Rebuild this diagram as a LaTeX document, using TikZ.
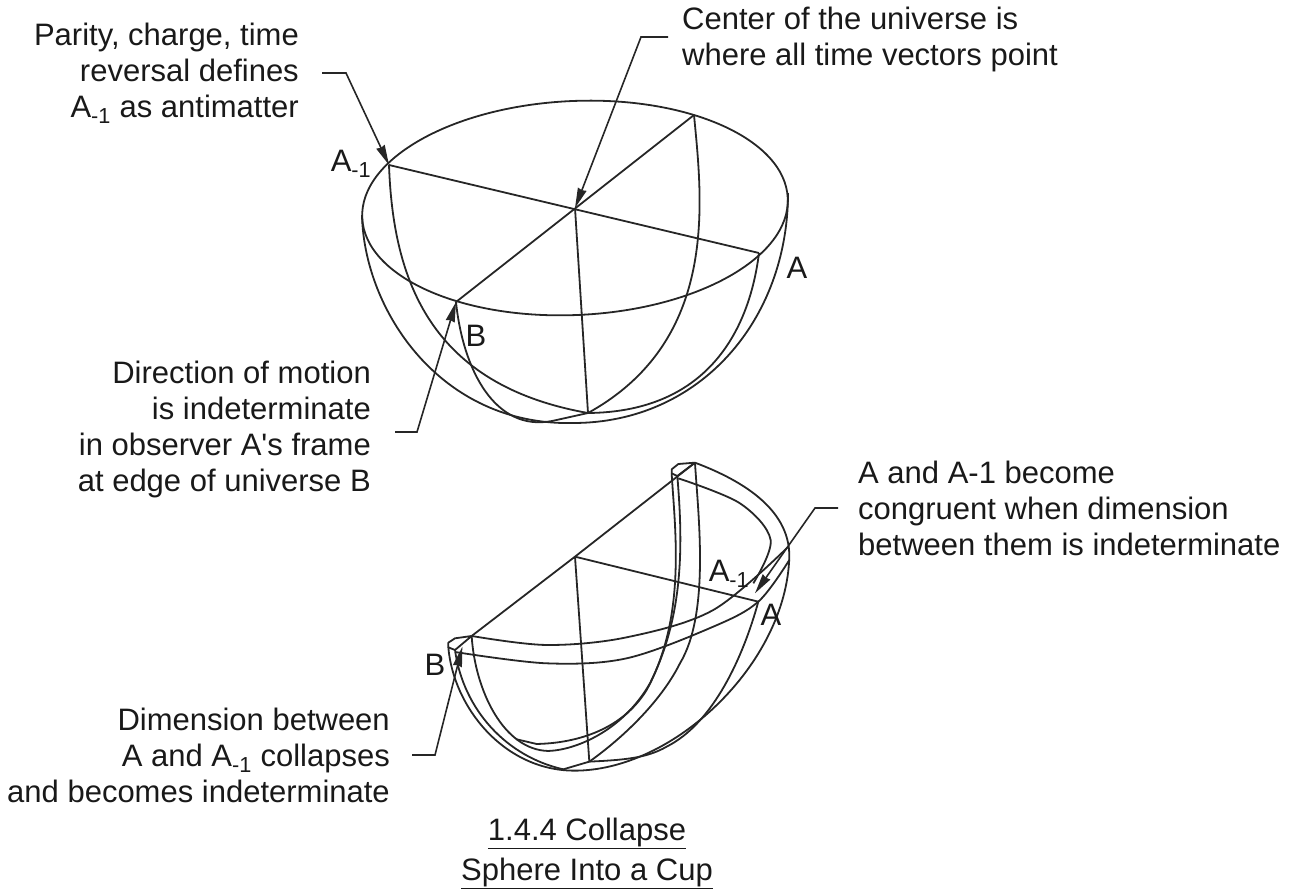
\documentclass[tikz,border=0pt]{standalone}
\usepackage{fontspec}
\setmainfont{Liberation Sans}
\usetikzlibrary{arrows.meta, calc}
\tikzset{
    every plot/.style={smooth, tension=0.55},
    bowl/.style={draw=black!85, line width=1.8pt, line join=round},
    leader/.style={draw=black!85, line width=1.6pt, -{Stealth[inset=1pt, length=20pt, width=9pt]}},
    lbl/.style={inner sep=0pt, font=\fontsize{31}{36}\selectfont, text=black!90},
    pt/.style={inner sep=0pt, font=\fontsize{31}{36}\selectfont, text=black!90}
}
\begin{document}
\begin{tikzpicture}[x=1pt, y=-1pt]
    \useasboundingbox (0,0) rectangle (1289,894);
    % upper hemisphere
    \coordinate (cen) at (575,208);
    \coordinate (am) at (389,165);
    \coordinate (a) at (759,253);
    \coordinate (b) at (456,302);
    \coordinate (top) at (694,115);
    \coordinate (bot) at (588,413);
    \draw[bowl, rotate around={2.7:(cen)}] (cen) ellipse (213 and 107);
    \draw[bowl] (am) -- (a);
    \draw[bowl] (b) -- (top);
    \draw[bowl] (cen) -- (bot);
    \draw[bowl] (362,215) .. controls (364,310) and (440,426) .. (573,423) .. controls (700,423) and (788,320) .. (788,193);
    \draw[bowl] (am) .. controls (393,280) and (430,385) .. (bot);
    \draw[bowl] (b) .. controls (463,370) and (495,432) .. (552,421) -- (bot);
    \draw[bowl] (a) .. controls (748,340) and (700,412) .. (bot);
    \draw[bowl] (top) .. controls (702,200) and (720,340) .. (bot);
    % collapsed cup
    \begin{scope}[shift={(420,450)}, x=0.3333pt, y=-0.3333pt]
        \coordinate (cenb) at (465,320);
        \coordinate (ab) at (1015,455);
        \coordinate (botb) at (508,935);
        \coordinate (capa) at (825,38);
        \coordinate (capb) at (155,558);
        \draw[bowl] (capb) -- (cenb) -- (capa);
        \draw[bowl] (cenb) -- (ab);
        \draw[bowl] (cenb) -- (botb);
        \draw[bowl] (capa) -- (775,42) -- (755,58) -- (755,70) -- (772,78) -- (capa);
        \draw[bowl] (capb) -- (105,565) -- (85,578) -- (85,592) -- (105,600) -- (capb);
        % rims
        \draw[bowl] plot coordinates {(capb) (380,585) (620,562) (880,480) (1105,290)};
        \draw[bowl] plot coordinates {(105,606) (380,640) (620,625) (880,530) (ab) (1108,330)};
        \draw[bowl] (capa) .. controls (950,85) and (1110,170) .. (1108,320) .. controls (1100,640) and (760,965) .. (460,962) .. controls (250,960) and (100,770) .. (85,592);
        \draw[bowl] plot coordinates {(775,85) (960,160) (1052,270) (1000,400)};
        % inner curves
        \draw[bowl] (755,70) .. controls (765,240) and (800,500) .. (680,720) .. controls (600,850) and (450,880) .. (350,882) -- (290,868);
        \draw[bowl] (772,78) .. controls (790,290) and (790,500) .. (690,700) .. controls (610,840) and (470,900) .. (385,903) .. controls (250,900) and (165,720) .. (capb);
        \draw[bowl] (capa) .. controls (835,200) and (870,490) .. (780,640) .. controls (720,760) and (600,870) .. (botb);
        \draw[bowl] (ab) .. controls (970,620) and (880,820) .. (740,890) .. controls (680,925) and (610,930) .. (botb);
        \draw[bowl] (105,600) .. controls (130,780) and (260,920) .. (430,958) -- (botb);
        \coordinate (tipa) at (1005,430);
        \coordinate (tipb) at (127,590);
    \end{scope}
    % labels
    \node[lbl, align=right, anchor=east] (parity) at (299,73) {Parity, charge, time\\reversal defines\\A\textsubscript{-1} as antimatter};
    \node[lbl, align=left, anchor=west] (centre) at (682,39) {Center of the universe is\\where all time vectors point};
    \node[lbl, align=right, anchor=east] (motion) at (371,429) {Direction of motion\\is indeterminate\\in observer A\textquotesingle s frame\\at edge of universe B};
    \node[lbl, align=left, anchor=west] (congr) at (858,508) {A and A-1 become\\congruent when dimension\\between them is indeterminate};
    \node[lbl, align=right, anchor=east] (dimen) at (390,755) {Dimension between\\A and A\textsubscript{-1} collapses\\and becomes indeterminate};
    \node[lbl, align=center] (title) at (587,853) {\underline{1.4.4 Collapse}\\[4pt]\underline{Sphere Into a Cup}};
    \node[pt] (lam) at (351,164) {A\textsubscript{-1}};
    \node[pt] (la) at (797,268) {A};
    \node[pt] (lb) at (476,336) {B};
    \node[pt] (lamb) at (729,574) {A\textsubscript{-1}};
    \node[pt] (lab) at (771,615) {A};
    \node[pt] (lbb) at (435,665) {B};
    % leaders
    \draw[leader] ([xshift=23pt]parity.east) -- ++(24,0) -- (am);
    \draw[leader] ([xshift=-14pt]centre.west) ++(0,-2) -- ++(-27,0) -- (cen);
    \draw[leader] ([xshift=24pt]motion.east) ++(0,3) -- ++(22,0) -- (b);
    \draw[leader] ([xshift=-20pt]congr.west) -- ++(-23,0) -- (tipa);
    \draw[leader] ([xshift=22pt]dimen.east) -- ++(23,0) -- (tipb);
\end{tikzpicture}
\end{document}
